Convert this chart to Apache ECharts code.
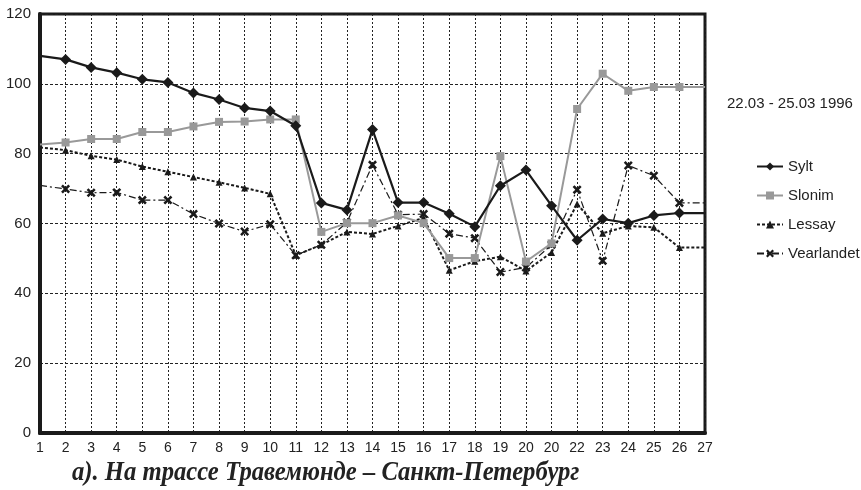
<!DOCTYPE html>
<html>
<head>
<meta charset="utf-8">
<script src="https://cdn.jsdelivr.net/npm/echarts@6/dist/echarts.min.js"></script>
<style>
  html, body { margin: 0; padding: 0; background: #fff; }
  #chart { width: 861px; height: 490px; }
</style>
</head>
<body>
<div id="chart"></div>
<script>
// подписи оси X (в оригинале под 21 стоит "20")
const xLabels = ['1', '2', '3', '4', '5', '6', '7', '8', '9', '10', '11', '12', '13', '14',
  '15', '16', '17', '18', '19', '20', '20', '22', '23', '24', '25', '26', '27'];

// значения серий по точкам 1..27
const sylt = [108, 107, 104.7, 103.2, 101.3, 100.4, 97.4, 95.5, 93.1, 92.2, 88, 65.9, 63.9, 86.9,
  66, 66, 62.8, 59.1, 70.8, 75.3, 65.1, 55.2, 61.3, 60.1, 62.3, 63, 63];
const slonim = [82.6, 83.2, 84.2, 84.2, 86.2, 86.2, 87.8, 89.1, 89.2, 89.8, 89.8, 57.6, 60.1, 60.1,
  62.3, 60.1, 50.1, 50.1, 79.3, 49.1, 54.3, 92.8, 102.9, 98, 99.1, 99.1, 99.1];
const lessay = [81.8, 81, 79.4, 78.3, 76.3, 74.8, 73.3, 71.8, 70.2, 68.5, 50.9, 53.9, 57.6, 57,
  59.3, 61.6, 46.6, 49.2, 50.5, 46.4, 51.7, 65.6, 57.2, 59.3, 58.9, 53.1, 53.1];
const vearlandet = [70.9, 69.9, 68.8, 68.9, 66.7, 66.7, 62.7, 60, 57.7, 59.8, 50.9, 53.9, 60.3, 76.8,
  62.5, 62.7, 57.1, 55.8, 46.1, 47.4, 53.9, 69.7, 49.3, 76.6, 73.7, 65.9, 65.9];

const yTicks = { min: 0, max: 120, interval: 20 };

// первая и последняя точки без маркеров
function points(values) {
  return values.map(function (v, i) {
    if (i === 0 || i === values.length - 1) return { value: v, symbol: 'none' };
    return v;
  });
}

const crossPath = 'path://M0,2 L2,0 L5,3 L8,0 L10,2 L7,5 L10,8 L8,10 L5,7 L2,10 L0,8 L3,5 Z';
const ink = '#1a1a1a';

const chart = echarts.init(document.getElementById('chart'));

const option = {
  animation: false,
  backgroundColor: '#fff',
  textStyle: { fontFamily: 'Liberation Sans' },
  title: {
    text: '22.03 - 25.03 1996',
    left: 722,
    top: 91,
    textStyle: { fontFamily: 'Liberation Sans', fontWeight: 'normal', fontSize: 15, color: '#222' }
  },
  // подпись снизу — узкий жирный курсив, поэтому через graphic со сжатием
  graphic: [
    {
      type: 'text',
      x: 72,
      y: 473,
      scaleX: 0.88,
      style: {
        text: 'а). На трассе Травемюнде – Санкт-Петербург',
        font: 'italic bold 28px "Liberation Serif"',
        fill: '#222',
        verticalAlign: 'middle'
      }
    }
  ],
  legend: {
    orient: 'vertical',
    left: 751,
    top: 154,
    itemWidth: 26,
    itemHeight: 10,
    itemGap: 14,
    textStyle: { fontSize: 15, color: '#222' },
    data: ['Sylt', 'Slonim', 'Lessay', 'Vearlandet']
  },
  grid: {
    left: 40,
    right: 156,
    top: 14,
    bottom: 57,
    show: true,
    borderColor: ink,
    borderWidth: 3
  },
  xAxis: {
    type: 'category',
    data: xLabels,
    boundaryGap: false,
    axisLine: { lineStyle: { color: ink, width: 4 } },
    axisTick: { show: false },
    axisLabel: { color: '#222', fontSize: 14, margin: 8, interval: 0 },
    splitLine: { show: true, lineStyle: { color: '#222', width: 1, type: [2, 2] } }
  },
  yAxis: {
    type: 'value',
    min: yTicks.min,
    max: yTicks.max,
    interval: yTicks.interval,
    axisLine: { show: true, lineStyle: { color: ink, width: 4 } },
    axisTick: { show: false },
    axisLabel: { color: '#222', fontSize: 15, margin: 9 },
    splitLine: { show: true, lineStyle: { color: '#222', width: 1, type: [3, 2] } }
  },
  series: [
    {
      name: 'Sylt',
      type: 'line',
      data: points(sylt),
      symbol: 'diamond',
      symbolSize: 11,
      itemStyle: { color: ink },
      lineStyle: { color: ink, width: 2.2 },
      z: 5
    },
    {
      name: 'Slonim',
      type: 'line',
      data: points(slonim),
      symbol: 'rect',
      symbolSize: 8,
      itemStyle: { color: '#999' },
      lineStyle: { color: '#999', width: 2 },
      z: 4
    },
    {
      name: 'Lessay',
      type: 'line',
      data: points(lessay),
      symbol: 'triangle',
      symbolSize: 7,
      itemStyle: { color: ink },
      lineStyle: { color: ink, width: 2, type: [3, 2] },
      z: 3
    },
    {
      name: 'Vearlandet',
      type: 'line',
      data: points(vearlandet),
      symbol: crossPath,
      symbolSize: 9,
      itemStyle: { color: ink },
      lineStyle: { color: ink, width: 1.2, type: [7, 3, 2, 3] },
      z: 3
    }
  ]
};

chart.setOption(option);
</script>
</body>
</html>
